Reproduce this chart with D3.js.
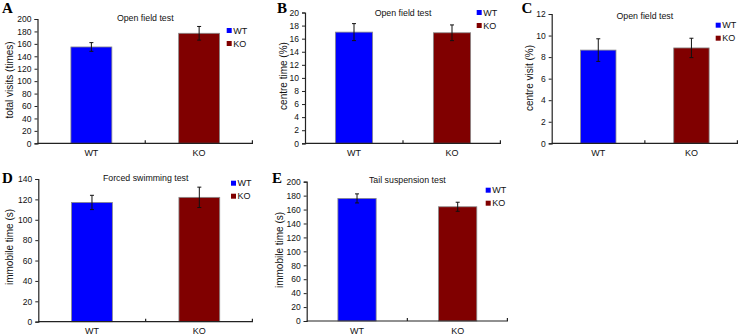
<!DOCTYPE html>
<html>
<head>
<meta charset="utf-8">
<script src="https://cdn.jsdelivr.net/npm/d3@7"></script>
<style>
  body { margin: 0; background: #fff; }
  svg { display: block; font-family: "Liberation Sans", Arial, sans-serif; }
</style>
</head>
<body>
<svg id="fig" width="738" height="335"></svg>
<script>
// data
const panelIds = ["A", "B", "C", "D", "E"];
const titles = ["Open field test", "Open field test", "Open field test", "Forced swimming test", "Tail suspension test"];
const yTitles = ["total visits (times)", "centre time (%)", "centre visit (%)", "immobile time (s)", "immobile time (s)"];
const yMaxes = [200, 20, 12, 140, 200];
const ySteps = [20, 2, 2, 20, 20];
const groups = ["WT", "KO"];
const colors = ["#0000ff", "#800000"];
const wtMeans = [155, 17.0, 8.65, 117, 176];
const wtErrors = [7, 1.3, 1.05, 7, 6.5];
const koMeans = [177, 16.9, 8.85, 122, 164];
const koErrors = [11, 1.2, 0.9, 10, 6.5];

// where each panel sits on the page
const layout = [
  { x0: 37.5, x1: 253, top: 19, bottom: 143.3, letterX: 2, letterY: 12.5, titleY: 21, ylabX: 9, ylabY: 80, legX: 226.7, legY: 28 },
  { x0: 305, x1: 501, top: 12.5, bottom: 143.3, letterX: 277, letterY: 12.5, titleY: 15.5, ylabX: 283, ylabY: 76, legX: 476.7, legY: 10 },
  { x0: 551.7, x1: 738, top: 14, bottom: 143.3, letterX: 521.5, letterY: 12.5, titleY: 19, ylabX: 529.3, ylabY: 78, legX: 715.7, legY: 22.7 },
  { x0: 38.3, x1: 253, top: 179, bottom: 321.7, letterX: 2, letterY: 183, titleY: 181, ylabX: 9, ylabY: 247, legX: 231, legY: 180.7 },
  { x0: 306.7, x1: 508, top: 181.7, bottom: 321, letterX: 272, letterY: 183, titleY: 183, ylabX: 279.3, ylabY: 250, legX: 485.7, legY: 187.7 }
];

const svg = d3.select("#fig");

panelIds.forEach((id, i) => {
  const L = layout[i];
  const g = svg.append("g");

  const x = d3.scaleBand().domain(groups).range([L.x0, L.x1])
    .paddingInner(0.62).paddingOuter(0.31);
  const y = d3.scaleLinear().domain([0, yMaxes[i]]).range([L.bottom, L.top]);

  const rows = groups.map((grp, j) => ({
    grp: grp,
    mean: j === 0 ? wtMeans[i] : koMeans[i],
    err: j === 0 ? wtErrors[i] : koErrors[i],
    color: colors[j]
  }));

  // bars
  g.selectAll(".bar").data(rows).enter()
    .append("rect")
    .attr("x", d => x(d.grp))
    .attr("width", x.bandwidth())
    .attr("y", d => y(d.mean))
    .attr("height", d => y(0) - y(d.mean))
    .attr("fill", d => d.color)
    .attr("stroke", "#8a8a8a")
    .attr("stroke-width", 0.8);

  // error bars
  const eb = g.selectAll(".err").data(rows).enter().append("g");
  const cx = d => x(d.grp) + x.bandwidth() / 2;
  eb.append("line")
    .attr("x1", cx).attr("x2", cx)
    .attr("y1", d => y(d.mean + d.err)).attr("y2", d => y(d.mean - d.err))
    .attr("stroke", "#111").attr("stroke-width", 1);
  [1, -1].forEach(s => {
    eb.append("line")
      .attr("x1", d => cx(d) - 2).attr("x2", d => cx(d) + 2)
      .attr("y1", d => y(d.mean + s * d.err)).attr("y2", d => y(d.mean + s * d.err))
      .attr("stroke", "#111").attr("stroke-width", 1);
  });

  // y axis
  const yAxis = g.append("g")
    .attr("transform", `translate(${L.x0},0)`)
    .call(d3.axisLeft(y).tickValues(d3.range(0, yMaxes[i] + 0.001, ySteps[i])).tickSize(3).tickPadding(3));
  yAxis.select(".domain").attr("stroke", "#222").attr("stroke-width", 1.2);
  yAxis.selectAll(".tick line").attr("stroke", "#222");
  yAxis.selectAll("text").attr("font-size", 8.5).attr("fill", "#111")
    .attr("font-family", "Liberation Sans, Arial, sans-serif");

  // x axis
  g.append("line")
    .attr("x1", L.x0).attr("x2", L.x1)
    .attr("y1", L.bottom).attr("y2", L.bottom)
    .attr("stroke", "#222").attr("stroke-width", 1.2);
  const mid = (x("WT") + x.bandwidth() + x("KO")) / 2;
  [mid, L.x1 - 0.6].forEach(t => {
    g.append("line")
      .attr("x1", t).attr("x2", t)
      .attr("y1", L.bottom).attr("y2", L.bottom - 3)
      .attr("stroke", "#222").attr("stroke-width", 1.2);
  });
  g.selectAll(".cat").data(groups).enter()
    .append("text")
    .attr("x", d => x(d) + x.bandwidth() / 2)
    .attr("y", L.bottom + 12.5)
    .attr("text-anchor", "middle")
    .attr("font-size", 9)
    .attr("fill", "#111")
    .text(d => d);

  // y label
  g.append("text")
    .attr("transform", `translate(${L.ylabX},${L.ylabY}) rotate(-90)`)
    .attr("text-anchor", "middle")
    .attr("dominant-baseline", "central")
    .attr("font-size", 10)
    .attr("fill", "#111")
    .text(yTitles[i]);

  // title
  g.append("text")
    .attr("x", (L.x0 + L.x1) / 2)
    .attr("y", L.titleY)
    .attr("text-anchor", "middle")
    .attr("font-size", 8.8)
    .attr("fill", "#111")
    .text(titles[i]);

  // panel letter
  g.append("text")
    .attr("x", L.letterX)
    .attr("y", L.letterY)
    .attr("font-family", "Liberation Serif, Times New Roman, serif")
    .attr("font-weight", "bold")
    .attr("font-size", 15)
    .attr("fill", "#000")
    .text(id);

  // legend
  const leg = g.selectAll(".leg").data(groups).enter()
    .append("g")
    .attr("transform", (d, j) => `translate(${L.legX},${L.legY + j * 13})`);
  leg.append("rect")
    .attr("width", 5).attr("height", 5)
    .attr("fill", (d, j) => colors[j]);
  leg.append("text")
    .attr("x", 6.5).attr("y", 5.5)
    .attr("font-size", 9)
    .attr("fill", "#111")
    .text(d => d);
});
</script>
</body>
</html>
